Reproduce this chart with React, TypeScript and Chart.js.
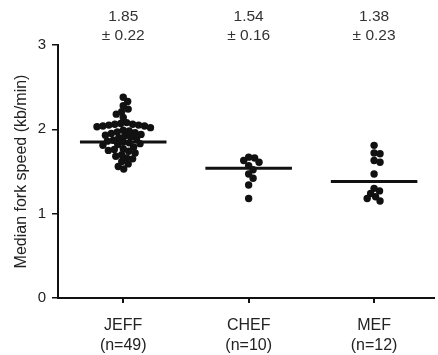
import React, { useEffect, useRef } from "react";
import { Chart, registerables } from "chart.js";

Chart.register(...registerables);

const categories = ["JEFF", "CHEF", "MEF"];
const counts = ["(n=49)", "(n=10)", "(n=12)"];
const means = [1.85, 1.54, 1.38];
const sds = [0.22, 0.16, 0.23];
const yTicks = [0, 1, 2, 3];
const yTitle = "Median fork speed (kb/min)";

const jeffValues = [
  2.38, 2.33, 2.28, 2.24, 2.21, 2.18, 2.14,
  2.08, 2.07, 2.06, 2.06, 2.05, 2.05, 2.04, 2.04, 2.03, 2.02,
  1.99, 1.98, 1.97, 1.96, 1.95,
  1.94, 1.93, 1.92, 1.91, 1.9, 1.89,
  1.87, 1.86, 1.85, 1.84, 1.83, 1.82, 1.81,
  1.79, 1.77, 1.76, 1.75, 1.74, 1.72,
  1.7, 1.68, 1.66, 1.65,
  1.62, 1.59, 1.56, 1.53,
];
const chefValues = [1.66, 1.67, 1.63, 1.61, 1.57, 1.52, 1.47, 1.42, 1.34, 1.18];
const mefValues = [1.81, 1.72, 1.71, 1.63, 1.61, 1.47, 1.3, 1.27, 1.24, 1.2, 1.18, 1.15];

const groups = [jeffValues, chefValues, mefValues];

// beeswarm layout computed from values (approximate pixel scales)
const PX_PER_Y = 84.3;
const PX_PER_X = 126.7;
const MIN_DIST = 6;

function swarm(values: number[], center: number) {
  const sorted = values.slice().sort((a, b) => b - a);
  const placed: { x: number; y: number }[] = [];
  const out: { x: number; y: number }[] = [];
  for (const v of sorted) {
    const py = v * PX_PER_Y;
    let chosen = 0;
    for (let step = 0; step < 400; step++) {
      const off = step === 0 ? 0 : (step % 2 ? 1 : -1) * Math.ceil(step / 2) * 0.5;
      const ok = placed.every((p) => Math.hypot(p.x - off, p.y - py) >= MIN_DIST);
      if (ok) {
        chosen = off;
        break;
      }
    }
    placed.push({ x: chosen, y: py });
    out.push({ x: center + chosen / PX_PER_X, y: v });
  }
  return out;
}

const HALF = 0.345;
const FONT = "Liberation Sans, Arial, sans-serif";

export default function App() {
  const ref = useRef<HTMLCanvasElement | null>(null);
  useEffect(() => {
    if (!ref.current) return;
    const dotSets = groups.map((vals, i) => ({
      type: "scatter" as const,
      data: swarm(vals, i),
      pointRadius: 3.7,
      pointHoverRadius: 3.7,
      backgroundColor: "#111",
      borderWidth: 0,
      order: 2,
    }));
    const medSets = means.map((m, i) => ({
      type: "line" as const,
      data: [
        { x: i - HALF, y: m },
        { x: i + HALF, y: m },
      ],
      borderColor: "#111",
      borderWidth: 3,
      pointRadius: 0,
      fill: false,
      order: 1,
    }));
    const fixTicks = (axis: any) => {
      axis.ticks = categories.map((_, i) => ({ value: i }));
    };
    const chart = new Chart(ref.current, {
      type: "scatter",
      data: { datasets: [...dotSets, ...medSets] as any },
      options: {
        animation: false,
        responsive: false,
        devicePixelRatio: 1,
        layout: { padding: 0 },
        plugins: { legend: { display: false }, tooltip: { enabled: false } },
        scales: {
          x: {
            type: "linear",
            position: "bottom",
            min: -0.52,
            max: 2.48,
            afterBuildTicks: fixTicks,
            afterFit: (s: any) => {
              s.height = 57;
            },
            border: { display: true, color: "#111", width: 2 },
            grid: { display: true, drawOnChartArea: false, color: "#111", lineWidth: 2, tickLength: 5 },
            ticks: {
              padding: 13,
              color: "#222",
              font: { family: FONT, size: 16, lineHeight: 1.25 },
              callback: (v: any) => [categories[Math.round(v)], counts[Math.round(v)]],
            },
          },
          x2: {
            type: "linear",
            position: "top",
            min: -0.52,
            max: 2.48,
            afterBuildTicks: fixTicks,
            afterFit: (s: any) => {
              s.height = 45;
            },
            border: { display: false },
            grid: { display: false, drawTicks: false },
            ticks: {
              padding: 0,
              color: "#333",
              font: { family: FONT, size: 15.5, lineHeight: 1.22 },
              callback: (v: any) => {
                const i = Math.round(v);
                return [means[i].toFixed(2), "\u00b1 " + sds[i].toFixed(2)];
              },
            },
          },
          y: {
            type: "linear",
            min: 0,
            max: 3,
            afterBuildTicks: (axis: any) => {
              axis.ticks = yTicks.map((v) => ({ value: v }));
            },
            afterFit: (s: any) => {
              s.width = 58;
            },
            border: { display: true, color: "#111", width: 2 },
            grid: { display: true, drawOnChartArea: false, color: "#111", lineWidth: 1.5, tickLength: 6 },
            ticks: {
              padding: 6,
              color: "#222",
              font: { family: FONT, size: 15 },
            },
            title: {
              display: true,
              text: yTitle,
              color: "#222",
              padding: { top: 12, bottom: 0 },
              font: { family: FONT, size: 16 },
            },
          },
        },
      },
    });
    return () => chart.destroy();
  }, []);
  return (
    <div style={{ position: "fixed", left: 0, top: 0, width: 438, height: 355, background: "#fff" }}>
      <canvas ref={ref} width={438} height={355} />
    </div>
  );
}
